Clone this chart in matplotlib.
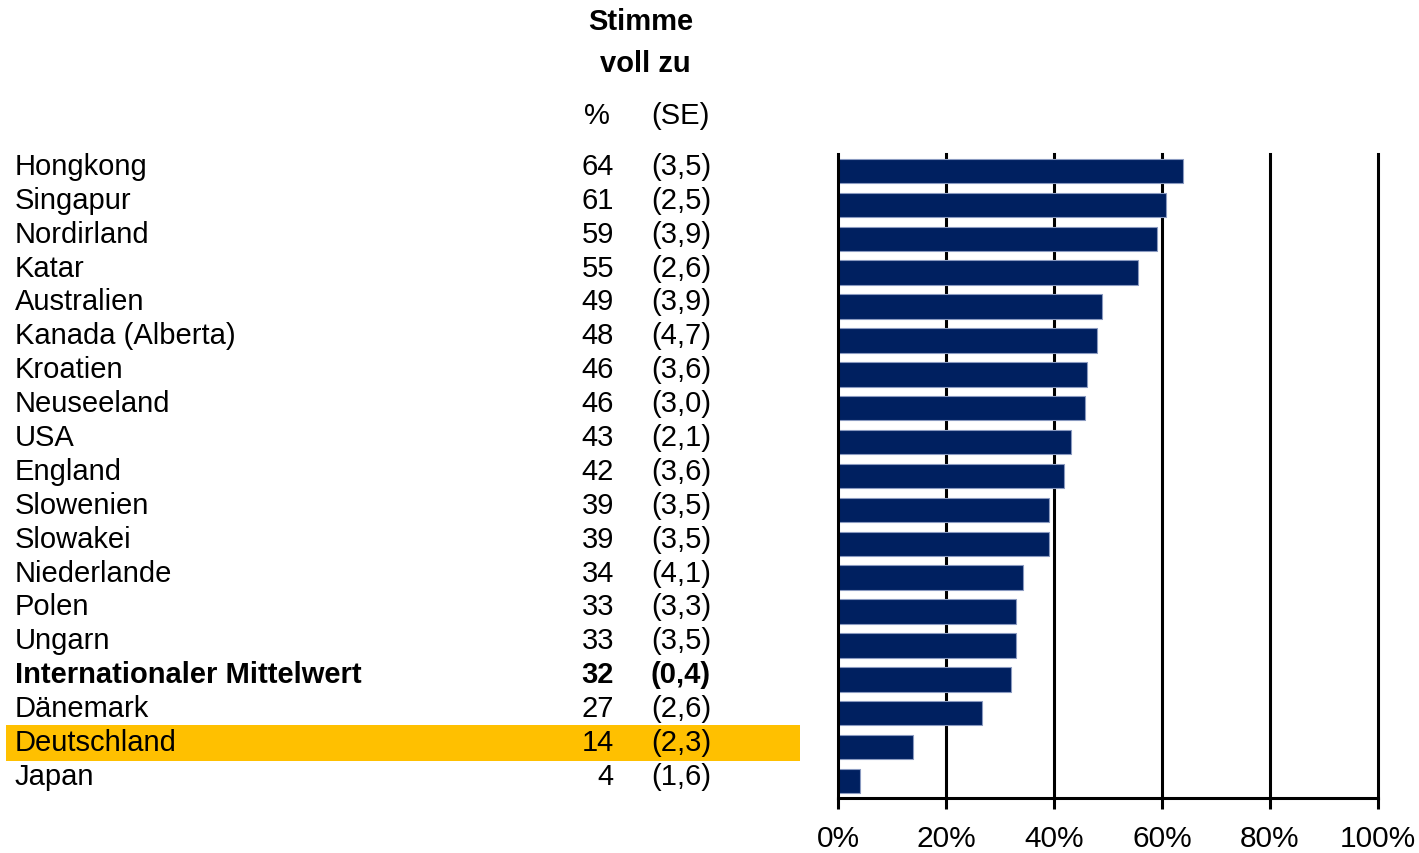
import matplotlib
matplotlib.use("Agg")
import matplotlib.pyplot as plt
from matplotlib.patches import Rectangle
import matplotlib.transforms as mtransforms

plt.rcParams['font.family'] = ['Liberation Sans', 'DejaVu Sans']

countries = ["Hongkong", "Singapur", "Nordirland", "Katar", "Australien",
             "Kanada (Alberta)", "Kroatien", "Neuseeland", "USA", "England",
             "Slowenien", "Slowakei", "Niederlande", "Polen", "Ungarn",
             "Internationaler Mittelwert", "Dänemark", "Deutschland", "Japan"]
pct_labels = ["64", "61", "59", "55", "49", "48", "46", "46", "43", "42",
              "39", "39", "34", "33", "33", "32", "27", "14", "4"]
se_labels = ["(3,5)", "(2,5)", "(3,9)", "(2,6)", "(3,9)", "(4,7)", "(3,6)",
             "(3,0)", "(2,1)", "(3,6)", "(3,5)", "(3,5)", "(4,1)", "(3,3)",
             "(3,5)", "(0,4)", "(2,6)", "(2,3)", "(1,6)"]
values = [63.9, 60.7, 59.1, 55.6, 48.9, 48.0, 46.1, 45.7, 43.1, 41.9,
          39.1, 39.1, 34.3, 33.0, 33.0, 32.0, 26.7, 13.9, 4.1]
xticks = [0, 20, 40, 60, 80, 100]
xtick_labels = ["0%", "20%", "40%", "60%", "80%", "100%"]
bold_row = "Internationaler Mittelwert"
highlight_row = "Deutschland"

W, H = 1419, 854
fig = plt.figure(figsize=(W / 100, H / 100), dpi=100)
ax = fig.add_axes([838 / W, 1 - 799 / H, (1378 - 838) / W, (799 - 155) / H])

n = len(countries)
ypos = list(range(n))
ax.barh(ypos, values, height=0.72, color="#002060", edgecolor="#8a9ac0",
        linewidth=0.8, zorder=3)
ax.set_xlim(0, 100)
ax.set_ylim(n - 0.5, -0.5)
ax.set_xticks(xticks)
ax.set_xticklabels(xtick_labels, fontsize=21.5)
ax.set_yticks([])
for xv in xticks[1:]:
    ax.axvline(xv, color="black", linewidth=2.2, zorder=1, clip_on=False)
for s in ["top", "right"]:
    ax.spines[s].set_visible(False)
for s in ["left", "bottom"]:
    ax.spines[s].set_linewidth(2.2)
    ax.spines[s].set_color("black")
    ax.spines[s].set_zorder(4)
ax.tick_params(axis="x", direction="out", length=8, width=2.2, pad=11,
               colors="black")

trans = mtransforms.blended_transform_factory(fig.transFigure, ax.transData)
fs = 21
for i, (c, p, se) in enumerate(zip(countries, pct_labels, se_labels)):
    weight = "bold" if c == bold_row else "normal"
    if c == highlight_row:
        rect = Rectangle((6 / W, i - 0.64), (800 - 6) / W, 1.06,
                         transform=trans, facecolor="#FFC000",
                         edgecolor="none", clip_on=False, zorder=0)
        fig.add_artist(rect)
    yt = i - 0.15
    fig.text(15 / W, yt, c, transform=trans, fontsize=fs, weight=weight,
             ha="left", va="center")
    fig.text(614 / W, yt, p, transform=trans, fontsize=fs, weight=weight,
             ha="right", va="center")
    fig.text(711 / W, yt, se, transform=trans, fontsize=fs, weight=weight,
             ha="right", va="center")

fig.text(641 / W, 1 - 22 / H, "Stimme", fontsize=fs, weight="bold",
         ha="center", va="center")
fig.text(645 / W, 1 - 64 / H, "voll zu", fontsize=fs, weight="bold",
         ha="center", va="center")
fig.text(597 / W, 1 - 116 / H, "%", fontsize=fs, ha="center", va="center")
fig.text(680 / W, 1 - 116 / H, "(SE)", fontsize=fs, ha="center", va="center")

fig.savefig("out.png", dpi=100)
